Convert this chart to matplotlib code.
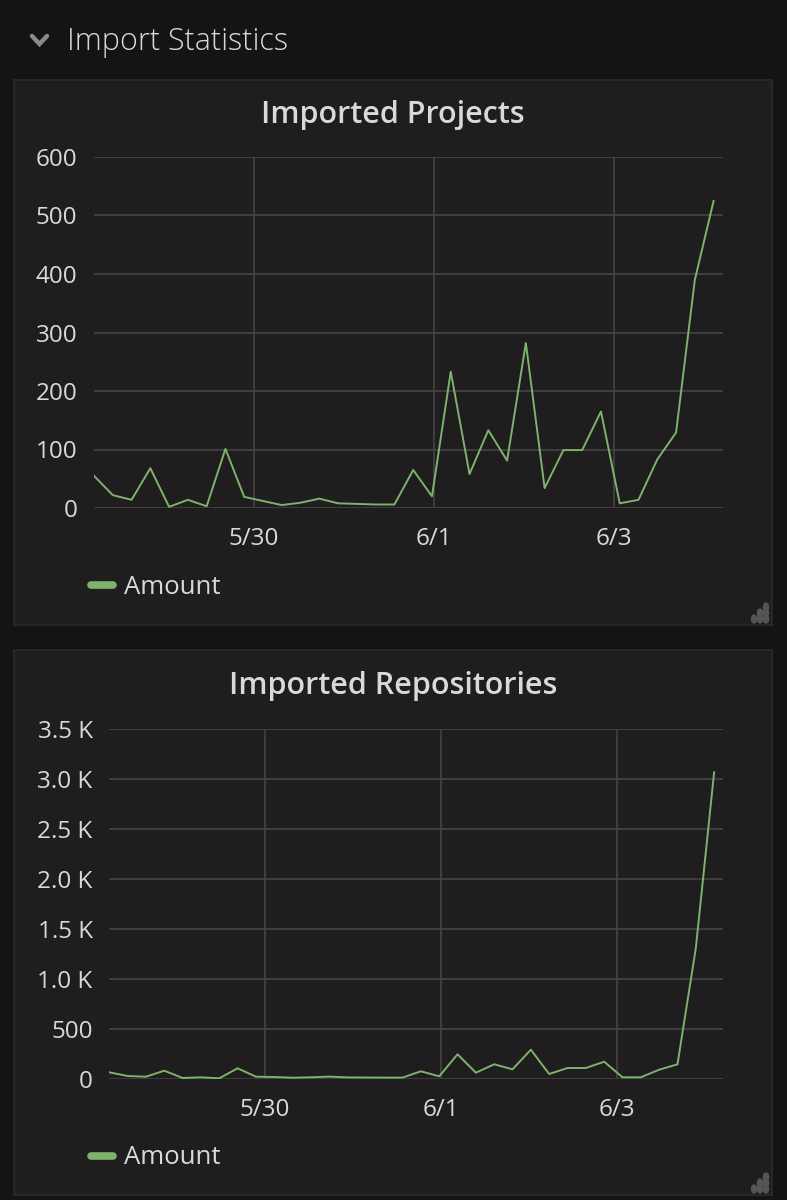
import numpy as np
import matplotlib
matplotlib.use("Agg")
import matplotlib.pyplot as plt
from matplotlib.patches import Rectangle, Circle
from matplotlib.lines import Line2D

### Data (5 hour buckets)

start = np.datetime64("2018-05-28T05:30")
step_hours = 5
projects = [55, 22, 14, 68, 2, 14, 3, 101, 19, 12, 5, 9, 16, 8, 7, 6, 6, 65,
            20, 233, 58, 133, 81, 282, 34, 99, 99, 165, 8, 14, 83, 129, 390, 525]
repositories = [67, 30, 23, 83, 10, 17, 7, 107, 23, 20, 13, 17, 24, 16, 15, 14, 14, 77,
                27, 247, 63, 147, 97, 293, 50, 110, 110, 173, 17, 17, 93, 147, 1307, 3067]
date_ticks = ["2018-05-30", "2018-06-01", "2018-06-03"]
date_labels = ["5/30", "6/1", "6/3"]
proj_yticks = [0, 100, 200, 300, 400, 500, 600]
proj_ylabels = ["0", "100", "200", "300", "400", "500", "600"]
repo_yticks = [0, 500, 1000, 1500, 2000, 2500, 3000, 3500]
repo_ylabels = ["0", "500", "1.0 K", "1.5 K", "2.0 K", "2.5 K", "3.0 K", "3.5 K"]
section_title = "Import Statistics"
panel_titles = ["Imported Projects", "Imported Repositories"]
series_name = "Amount"

### Style

W, H = 787, 1200
BG = "#141414"
PANEL = "#1f1d1e"
BORDER = "#2b2b2b"
TEXT = "#d8d9da"
GRID = "#474747"
GREEN = "#7eb26d"
plt.rcParams["font.family"] = ["Open Sans", "DejaVu Sans"]

def fx(x):  # pixel x -> figure fraction
    return x / W

def fy(y):  # pixel y (from top) -> figure fraction
    return 1 - y / H

def rect(l, t, r, b):
    return [fx(l), fy(b), fx(r) - fx(l), fy(t) - fy(b)]

fig = plt.figure(figsize=(W / 100, H / 100), dpi=100, facecolor=BG)

# header
fig.add_artist(Line2D([fx(32), fx(39.5), fx(47)], [fy(36), fy(44), fy(36)],
                      color="#8a8a8a", lw=3.2, solid_capstyle="round", solid_joinstyle="miter"))
fig.text(fx(67), fy(42), section_title, color=TEXT, fontsize=22, fontweight="light",
         va="center", ha="left")

times = start + np.arange(len(projects)) * np.timedelta64(step_hours, "h")
span = np.timedelta64(int(33.5 * step_hours * 60), "m")

panels = [
    dict(box=(14, 80, 772, 625), ax=(94, 157, 723, 508), y=projects,
         yt=proj_yticks, yl=proj_ylabels, ymax=600, title_y=115, leg_y=587),
    dict(box=(14, 650, 772, 1195), ax=(109.3, 729, 723.3, 1079), y=repositories,
         yt=repo_yticks, yl=repo_ylabels, ymax=3500, title_y=686, leg_y=1158),
]

for i, p in enumerate(panels):
    l, t, r, b = p["box"]
    fig.add_artist(Rectangle((fx(l), fy(b)), fx(r) - fx(l), fy(t) - fy(b),
                             transform=fig.transFigure, facecolor=PANEL,
                             edgecolor=BORDER, lw=1.2, zorder=0))
    fig.text(fx((l + r) / 2), fy(p["title_y"]), panel_titles[i], color=TEXT,
             fontsize=22, fontweight="semibold", ha="center", va="center")
    # resize handle dots
    for dx, dy in [(0, 0), (-6, 0), (-12, 0), (0, -6), (-6, -6), (0, -12)]:
        fig.add_artist(Circle((fx(r - 6 + dx), fy(b - 6 + dy)), 2.6 / W,
                              transform=fig.transFigure, color="#555555", zorder=1))

    ax = fig.add_axes(rect(*p["ax"]))
    ax.set_facecolor("none")
    ax.plot(times, p["y"], color=GREEN, lw=1.4, label=series_name, zorder=3)
    ax.set_xlim(times[0], times[0] + span)
    ax.set_ylim(0, p["ymax"])
    ax.set_yticks(p["yt"], p["yl"])
    ax.set_xticks([np.datetime64(d) for d in date_ticks], date_labels)
    ax.grid(True, color=GRID, lw=1.1, zorder=1)
    for s in ax.spines.values():
        s.set_visible(False)
    ax.tick_params(length=0, colors=TEXT, labelsize=17.5)
    ax.tick_params(axis="y", pad=12)
    ax.tick_params(axis="x", pad=14)

    leg = ax.legend(loc="center left", bbox_to_anchor=(fx(91), fy(p["leg_y"])),
                    bbox_transform=fig.transFigure, frameon=False, fontsize=18.5,
                    labelcolor=TEXT, handlelength=0.85, handletextpad=0.45,
                    borderpad=0, borderaxespad=0)
    for h in leg.legend_handles:
        h.set_linewidth(5.5)
        h.set_solid_capstyle("round")

fig.savefig("out.png", dpi=100, facecolor=BG)
